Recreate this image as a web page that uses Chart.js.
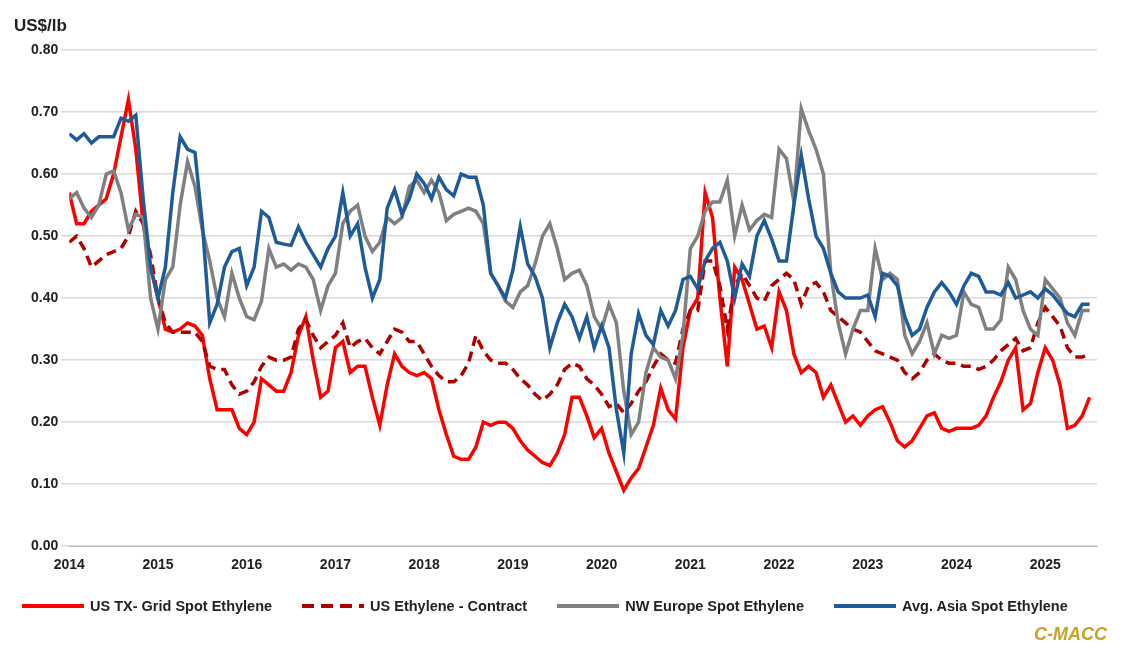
<!DOCTYPE html>
<html>
<head>
<meta charset="utf-8">
<script src="https://cdn.jsdelivr.net/npm/chart.js@4"></script>
<style>
  body { margin: 0; background: #fff; font-family: "Liberation Sans", Arial, sans-serif; }
  #wrap { position: relative; width: 1125px; height: 657px; }
  #unit { position: absolute; left: 14px; top: 16px; font-weight: bold; font-size: 17px; color: #222; }
  #legend { position: absolute; left: 22px; top: 598px; display: flex; font-weight: bold; font-size: 14.5px; color: #222; }
  .item { display: flex; align-items: center; margin-right: 30px; }
  .item svg { margin-right: 6px; }
  #brand { position: absolute; right: 18px; top: 624px; font-weight: bold; font-style: italic; font-size: 18px; color: #c9a227; }
</style>
</head>
<body>
<div id="wrap">
  <canvas id="chart" width="1125" height="657"></canvas>
  <div id="unit">US$/lb</div>
  <div id="legend">
    <div class="item"><svg width="62" height="6"><line x1="0" y1="3" x2="62" y2="3" stroke="#ff0000" stroke-width="4"/></svg>US TX- Grid Spot Ethylene</div>
    <div class="item"><svg width="62" height="6"><line x1="0" y1="3" x2="62" y2="3" stroke="#b00000" stroke-width="4" stroke-dasharray="12,7"/></svg>US Ethylene - Contract</div>
    <div class="item"><svg width="62" height="6"><line x1="0" y1="3" x2="62" y2="3" stroke="#808080" stroke-width="4"/></svg>NW Europe Spot Ethylene</div>
    <div class="item"><svg width="62" height="6"><line x1="0" y1="3" x2="62" y2="3" stroke="#1f5b99" stroke-width="4"/></svg>Avg. Asia Spot Ethylene</div>
  </div>
  <div id="brand">C-MACC</div>
</div>
<script>
const startYear = 2014;
const yearTicks = ['2014','2015','2016','2017','2018','2019','2020','2021','2022','2023','2024','2025'];

// monthly, Jan 2014 - Jul 2025
const usSpot = [
  0.57,0.52,0.52,0.54,0.55,0.56,0.60,0.66,0.72,0.64,0.52,0.45,
  0.40,0.35,0.345,0.35,0.36,0.355,0.34,0.27,0.22,0.22,0.22,0.19,
  0.18,0.20,0.27,0.26,0.25,0.25,0.28,0.34,0.37,0.30,0.24,0.25,
  0.32,0.33,0.28,0.29,0.29,0.24,0.195,0.26,0.31,0.29,0.28,0.275,
  0.28,0.27,0.22,0.18,0.145,0.14,0.14,0.16,0.20,0.195,0.20,0.20,
  0.19,0.17,0.155,0.145,0.135,0.13,0.15,0.18,0.24,0.24,0.21,0.175,
  0.19,0.15,0.12,0.09,0.11,0.125,0.16,0.195,0.255,0.22,0.205,0.32,
  0.38,0.40,0.57,0.53,0.40,0.29,0.45,0.43,0.39,0.35,0.355,0.32,
  0.41,0.38,0.31,0.28,0.29,0.28,0.24,0.26,0.23,0.20,0.21,0.195,
  0.21,0.22,0.225,0.20,0.17,0.16,0.17,0.19,0.21,0.215,0.19,0.185,
  0.19,0.19,0.19,0.195,0.21,0.24,0.265,0.30,0.32,0.22,0.23,0.28,
  0.32,0.30,0.26,0.19,0.195,0.21,0.24
];
const usContract = [
  0.49,0.50,0.48,0.45,0.46,0.47,0.475,0.48,0.50,0.54,0.52,0.47,
  0.40,0.36,0.345,0.345,0.345,0.345,0.33,0.29,0.285,0.285,0.26,0.245,
  0.25,0.265,0.29,0.305,0.30,0.30,0.305,0.35,0.365,0.34,0.32,0.33,
  0.34,0.36,0.32,0.33,0.335,0.32,0.31,0.33,0.35,0.345,0.33,0.33,
  0.31,0.29,0.275,0.265,0.265,0.275,0.295,0.34,0.315,0.30,0.295,0.295,
  0.285,0.27,0.26,0.245,0.235,0.245,0.26,0.285,0.295,0.29,0.27,0.26,
  0.245,0.225,0.23,0.215,0.23,0.25,0.265,0.29,0.31,0.30,0.295,0.35,
  0.38,0.38,0.46,0.46,0.42,0.35,0.42,0.44,0.42,0.40,0.395,0.42,
  0.43,0.44,0.43,0.39,0.42,0.425,0.41,0.38,0.37,0.36,0.35,0.345,
  0.33,0.315,0.31,0.305,0.30,0.28,0.27,0.28,0.30,0.31,0.30,0.295,
  0.295,0.29,0.29,0.285,0.29,0.30,0.315,0.325,0.335,0.315,0.32,0.36,
  0.385,0.37,0.355,0.32,0.305,0.305,0.31
];
const nwEurope = [
  0.56,0.57,0.545,0.53,0.55,0.60,0.605,0.57,0.51,0.535,0.53,0.40,
  0.35,0.43,0.45,0.55,0.62,0.58,0.51,0.46,0.40,0.37,0.44,0.40,
  0.37,0.365,0.395,0.48,0.45,0.455,0.445,0.455,0.45,0.43,0.38,0.42,
  0.44,0.52,0.54,0.55,0.50,0.475,0.49,0.53,0.52,0.53,0.58,0.59,
  0.57,0.59,0.57,0.525,0.535,0.54,0.545,0.54,0.52,0.44,0.42,0.395,
  0.385,0.41,0.42,0.455,0.50,0.52,0.48,0.43,0.44,0.445,0.42,0.37,
  0.35,0.39,0.36,0.25,0.18,0.20,0.28,0.32,0.305,0.30,0.27,0.34,
  0.48,0.50,0.54,0.555,0.555,0.59,0.50,0.55,0.51,0.525,0.535,0.53,
  0.64,0.625,0.555,0.705,0.67,0.64,0.60,0.44,0.36,0.31,0.35,0.38,
  0.38,0.48,0.43,0.44,0.43,0.34,0.31,0.33,0.36,0.31,0.34,0.335,
  0.34,0.41,0.39,0.385,0.35,0.35,0.365,0.45,0.43,0.38,0.35,0.34,
  0.43,0.415,0.40,0.36,0.34,0.38,0.38
];
const asia = [
  0.665,0.655,0.665,0.65,0.66,0.66,0.66,0.69,0.685,0.695,0.56,0.45,
  0.40,0.45,0.57,0.66,0.64,0.635,0.52,0.36,0.39,0.45,0.475,0.48,
  0.42,0.45,0.54,0.53,0.49,0.487,0.485,0.515,0.49,0.47,0.45,0.48,
  0.50,0.57,0.50,0.52,0.45,0.40,0.43,0.545,0.575,0.535,0.56,0.60,
  0.585,0.56,0.595,0.575,0.565,0.60,0.595,0.595,0.55,0.44,0.42,0.40,
  0.445,0.515,0.455,0.435,0.40,0.32,0.36,0.39,0.37,0.335,0.37,0.32,
  0.355,0.32,0.22,0.15,0.31,0.375,0.34,0.325,0.38,0.355,0.38,0.43,
  0.435,0.415,0.46,0.48,0.49,0.46,0.40,0.455,0.435,0.50,0.525,0.495,
  0.46,0.46,0.55,0.63,0.56,0.50,0.48,0.44,0.41,0.40,0.40,0.40,
  0.405,0.37,0.44,0.435,0.42,0.37,0.34,0.35,0.385,0.41,0.425,0.41,
  0.39,0.42,0.44,0.435,0.41,0.41,0.405,0.425,0.40,0.405,0.41,0.40,
  0.415,0.405,0.39,0.375,0.37,0.39,0.39
];

const toXY = arr => arr.map((v, i) => ({ x: i, y: v }));
const line = (label, data, color, dash) => ({
  label, data: toXY(data), borderColor: color, borderWidth: 3.5,
  borderDash: dash || [], pointRadius: 0, tension: 0, fill: false
});

new Chart(document.getElementById('chart'), {
  type: 'line',
  data: {
    datasets: [
      line('Avg. Asia Spot Ethylene', asia, '#1f5b99'),
      line('NW Europe Spot Ethylene', nwEurope, '#808080'),
      line('US Ethylene - Contract', usContract, '#b00000', [10, 6]),
      line('US TX- Grid Spot Ethylene', usSpot, '#ff0000')
    ]
  },
  options: {
    responsive: false,
    animation: false,
    layout: { padding: { top: 50, right: 28, bottom: 80, left: 28 } },
    plugins: { legend: { display: false }, tooltip: { enabled: false } },
    scales: {
      x: {
        type: 'linear', min: 0, max: 139,
        afterBuildTicks: ax => { ax.ticks = yearTicks.map((t, i) => ({ value: i * 12 })); },
        ticks: {
          callback: v => String(startYear + v / 12),
          font: { weight: 'bold', size: 14 }, color: '#222', maxRotation: 0
        },
        grid: { display: false },
        border: { color: '#bfbfbf', width: 1 }
      },
      y: {
        min: 0, max: 0.8,
        ticks: { stepSize: 0.1, callback: v => v.toFixed(2), font: { weight: 'bold', size: 14 }, color: '#222' },
        grid: { color: '#d9d9d9', lineWidth: 1.5 },
        border: { display: false }
      }
    }
  }
});
</script>
</body>
</html>
